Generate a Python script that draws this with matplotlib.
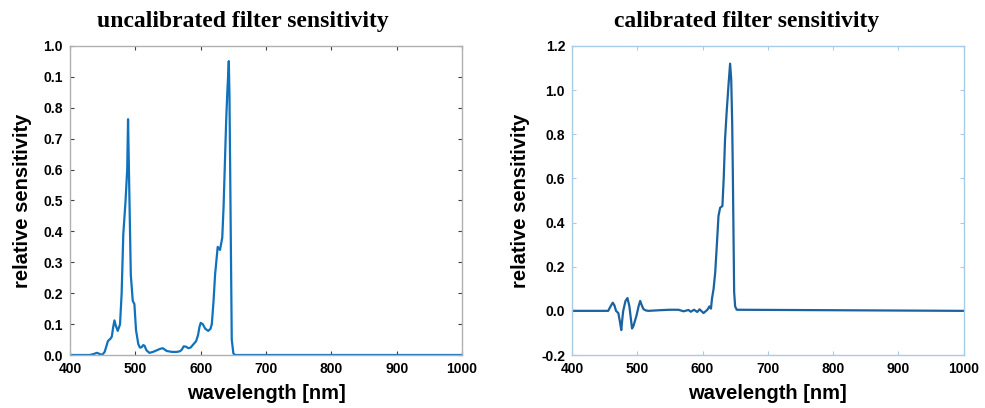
import numpy as np
import matplotlib
matplotlib.use("Agg")
import matplotlib.pyplot as plt

# uncalibrated filter sensitivity
wl_uncal = [400, 430, 436, 441, 446, 449, 453, 458, 462, 464, 466, 468, 470, 473, 476.5, 479,
            481.5, 485, 487.5, 488.8, 490.3, 493, 496, 498.5, 501, 504.5, 507, 509.5, 512, 514,
            517, 521.5, 527, 532.5, 538, 542, 548, 556, 563, 568, 571, 574, 577.5, 581, 584.5,
            589, 593, 596, 598, 600, 603, 607, 611.5, 615, 617, 619.5, 622, 626, 629.5, 633,
            635, 637, 639, 640.8, 643, 644, 645, 646, 647.5, 650, 652.5, 1000]
sens_uncal = [0, 0, 0.003, 0.007, 0.003, 0.0, 0.01, 0.045, 0.053, 0.06, 0.09, 0.112, 0.095,
              0.078, 0.099, 0.2, 0.39, 0.50, 0.6, 0.763, 0.58, 0.26, 0.175, 0.165, 0.08, 0.035,
              0.024, 0.025, 0.032, 0.03, 0.015, 0.007, 0.01, 0.015, 0.02, 0.022, 0.013, 0.01,
              0.01, 0.012, 0.017, 0.028, 0.027, 0.022, 0.024, 0.035, 0.045, 0.065, 0.09, 0.104,
              0.10, 0.085, 0.078, 0.085, 0.10, 0.17, 0.26, 0.35, 0.34, 0.38, 0.48, 0.62, 0.76,
              0.854, 0.951, 0.84, 0.62, 0.39, 0.05, 0.005, 0, 0]

# calibrated filter sensitivity
wl_cal = [400, 455.5, 459, 462.5, 465, 467.5, 471, 473.5, 475.5, 477, 478.5, 482, 485, 488,
          492, 494, 496.5, 499, 502, 504.5, 507, 509.5, 513, 517, 535, 550, 563, 571, 578.5,
          582, 587, 592, 595.5, 601.5, 607.5, 610.5, 613, 614.5, 617, 619.5, 622, 624.5, 627,
          630.5, 632.5, 634.5, 637, 640, 642.3, 644, 645.5, 646.5, 647.5, 648.5, 650, 652.5, 1000]
sens_cal = [0, 0, 0.02, 0.037, 0.025, 0.0, -0.01, -0.05, -0.087, -0.04, 0.0, 0.045, 0.058, 0.02,
            -0.08, -0.07, -0.045, -0.02, 0.02, 0.045, 0.025, 0.008, 0.002, 0.0, 0.003, 0.005,
            0.005, -0.002, 0.004, -0.004, 0.005, -0.005, 0.007, -0.01, 0.005, 0.02, 0.01, 0.055,
            0.1, 0.175, 0.3, 0.43, 0.467, 0.475, 0.6, 0.774, 0.9, 1.03, 1.12, 1.05, 0.85, 0.62,
            0.35, 0.085, 0.02, 0.005, 0.0]

x_ticks = [400, 500, 600, 700, 800, 900, 1000]
yticks_uncal = [0.0, 0.1, 0.2, 0.3, 0.4, 0.5, 0.6, 0.7, 0.8, 0.9, 1.0]
ylabels_uncal = ["0.0", "0.1", "0.2", "0.3", "0.4", "0.5", "0.6", "0.7", "0.8", "0.1", "1.0"]
yticks_cal = [-0.2, 0.0, 0.2, 0.4, 0.6, 0.8, 1.0, 1.2]
ylabels_cal = ["-0.2", "0.0", "0.2", "0.4", "0.6", "0.8", "1.0", "1.2"]

plt.rcParams['font.family'] = ['Liberation Sans', 'DejaVu Sans']

fig = plt.figure(figsize=(9.85, 4.08), dpi=100)
ax1 = fig.add_axes([0.0711, 0.1299, 0.398, 0.7574])
ax2 = fig.add_axes([0.5807, 0.1299, 0.3975, 0.7574])


def style_axis(ax, frame_color, tick_color):
    for s in ax.spines.values():
        s.set_color(frame_color)
        s.set_linewidth(1.0)
    ax.tick_params(direction='in', length=3, width=0.8, color=tick_color,
                   top=True, right=True, labelsize=10, pad=5)
    for lab in ax.get_xticklabels() + ax.get_yticklabels():
        lab.set_fontweight('bold')
    ax.set_xlabel('wavelength [nm]', fontsize=14.5, fontweight='bold', labelpad=6)
    ax.set_ylabel('relative sensitivity', fontsize=14.5, fontweight='bold', labelpad=8)


# uncalibrated
ax1.plot(wl_uncal, sens_uncal, color='#0f72bd', linewidth=1.6)
ax1.set_xlim(400, 1000)
ax1.set_ylim(0, 1.0)
ax1.set_xticks(x_ticks)
ax1.set_yticks(yticks_uncal)
ax1.set_yticklabels(ylabels_uncal)
style_axis(ax1, '#b0b0b0', '#404040')

# calibrated
ax2.plot(wl_cal, sens_cal, color='#1b62a0', linewidth=1.6)
ax2.set_xlim(400, 1000)
ax2.set_ylim(-0.2, 1.2)
ax2.set_xticks(x_ticks)
ax2.set_yticks(yticks_cal)
ax2.set_yticklabels(ylabels_cal)
style_axis(ax2, '#a9cbe6', '#a9cbe6')

fig.text(243 / 985, 1 - 22 / 408, 'uncalibrated filter sensitivity', ha='center', va='center',
         family=['Liberation Serif', 'DejaVu Serif'], fontweight='bold', fontsize=17)
fig.text(747 / 985, 1 - 22 / 408, 'calibrated filter sensitivity', ha='center', va='center',
         family=['Liberation Serif', 'DejaVu Serif'], fontweight='bold', fontsize=17)

fig.savefig('out.png', dpi=100)
